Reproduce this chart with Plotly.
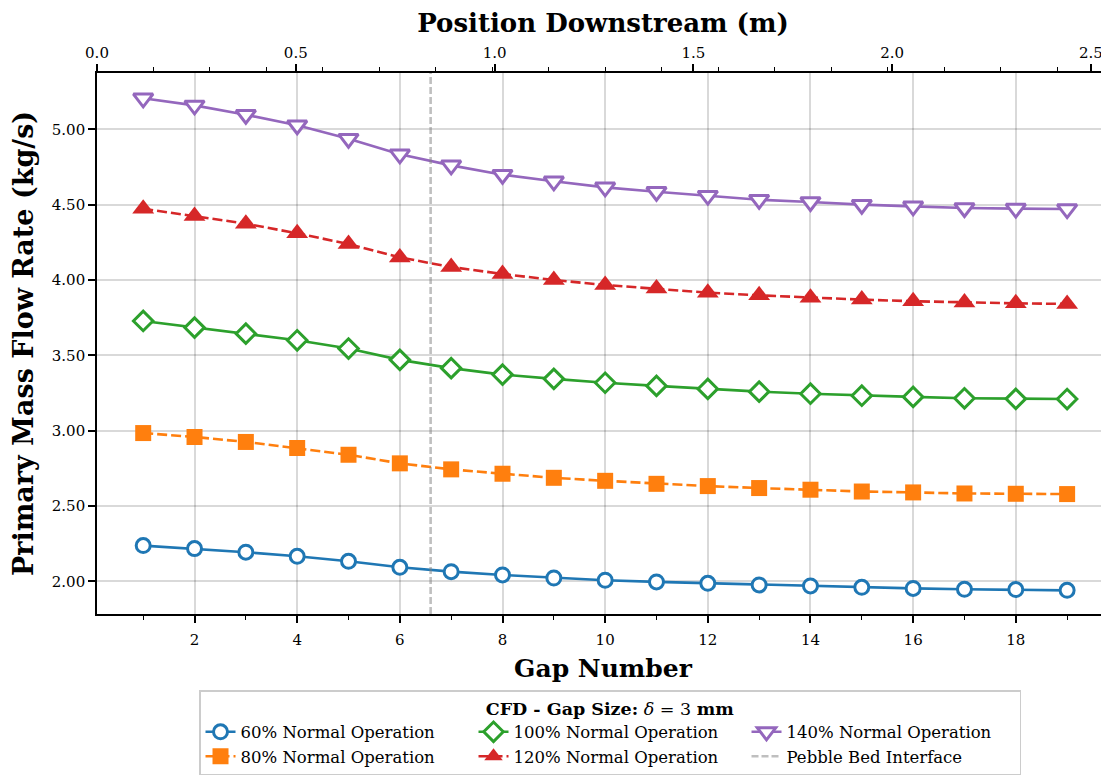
import plotly.graph_objects as go

# ---------------- data ----------------
gap_number = list(range(1, 20))
flow_60 = [2.237, 2.217, 2.193, 2.166, 2.133, 2.093, 2.064, 2.042, 2.022, 2.007,
           1.996, 1.987, 1.976, 1.969, 1.960, 1.953, 1.947, 1.945, 1.940]
flow_80 = [2.984, 2.958, 2.925, 2.885, 2.840, 2.783, 2.743, 2.714, 2.687, 2.667,
           2.647, 2.632, 2.619, 2.608, 2.596, 2.590, 2.583, 2.581, 2.579]
flow_100 = [3.728, 3.684, 3.644, 3.600, 3.545, 3.470, 3.415, 3.372, 3.344, 3.318,
            3.297, 3.277, 3.259, 3.245, 3.232, 3.224, 3.215, 3.211, 3.210]
flow_120 = [4.473, 4.425, 4.374, 4.310, 4.239, 4.150, 4.086, 4.040, 4.000, 3.967,
            3.943, 3.916, 3.898, 3.883, 3.870, 3.859, 3.850, 3.845, 3.841]
flow_140 = [5.206, 5.159, 5.097, 5.027, 4.938, 4.834, 4.761, 4.699, 4.655, 4.615,
            4.586, 4.560, 4.533, 4.518, 4.500, 4.489, 4.478, 4.474, 4.471]
pebble_bed_gap = 6.6

series_names = ["60% Normal Operation", "80% Normal Operation", "100% Normal Operation",
                "120% Normal Operation", "140% Normal Operation"]
series_values = [flow_60, flow_80, flow_100, flow_120, flow_140]

# ---------------- styles ----------------
colors = ["#1f77b4", "#ff7f0e", "#2ca02c", "#d62728", "#9467bd"]
symbols = ["circle", "square", "diamond", "triangle-up", "triangle-down"]
open_face = [True, False, True, False, True]
dashes = ["solid", "10px,4px", "solid", "10px,4px", "solid"]
sizes = [14, 16, 15, 19, 17]
ranks = [1, 4, 2, 5, 3]

X_RANGE = [0.1, 19.816]
Y_RANGE = [1.783, 5.374]
TOP_RANGE = [0.0, 2.5455]

FONT = "DejaVu Serif"

fig = go.Figure()
for name, vals, c, sym, of, d, s, r in zip(series_names, series_values, colors, symbols,
                                           open_face, dashes, sizes, ranks):
    fig.add_trace(go.Scatter(
        x=gap_number, y=vals, name=name, mode="lines+markers",
        line=dict(color=c, width=2.6, dash=d),
        marker=dict(symbol=sym, size=s,
                    color="white" if of else c,
                    line=dict(color=c, width=3 if of else 0)),
        legendrank=r,
    ))

# pebble bed interface (vertical dashed line spanning the axis)
fig.add_trace(go.Scatter(
    x=[pebble_bed_gap, pebble_bed_gap], y=Y_RANGE, mode="lines",
    name="Pebble Bed Interface",
    line=dict(color="rgba(128,128,128,0.5)", width=2.6, dash="7px,3px"),
    legendrank=6,
))

# invisible trace for top axis
fig.add_trace(go.Scatter(x=TOP_RANGE, y=Y_RANGE, xaxis="x2", mode="markers",
                         marker=dict(opacity=0), showlegend=False, hoverinfo="skip"))

grid_c = "rgba(0,0,0,0.15)"
fig.update_layout(
    width=1109, height=776,
    margin=dict(l=89, r=8, t=64.5, b=169.5, autoexpand=False),
    paper_bgcolor="white", plot_bgcolor="white",
    font=dict(family=FONT, size=15, color="black"),
    xaxis=dict(
        range=X_RANGE, tickmode="linear", tick0=0, dtick=2, automargin=False,
        ticks="outside", ticklen=7, tickwidth=1.5, tickcolor="black",
        showline=True, linecolor="black", linewidth=1.6,
        showgrid=True, gridcolor=grid_c, gridwidth=1.5, zeroline=False,
        minor=dict(dtick=1, tick0=0, ticks="outside", ticklen=4, tickwidth=1.2,
                   tickcolor="black", showgrid=False),
        title=dict(text="<b>Gap Number</b>", font=dict(size=25), standoff=12),
        tickfont=dict(size=15), ticklabelstandoff=4,
    ),
    xaxis2=dict(
        range=TOP_RANGE, overlaying="x", side="top", anchor="y", automargin=False,
        tickmode="linear", tick0=0, dtick=0.5, tickformat=".1f",
        ticks="outside", ticklen=7, tickwidth=1.5, tickcolor="black",
        showline=True, linecolor="black", linewidth=1.6,
        showgrid=False, zeroline=False,
        minor=dict(dtick=0.1421, tick0=0, ticks="outside", ticklen=4, tickwidth=1.2,
                   tickcolor="black", showgrid=False),
        title=dict(text="<b>Position Downstream (m)</b>", font=dict(size=26), standoff=8),
        tickfont=dict(size=15),
    ),
    yaxis=dict(
        range=Y_RANGE, tickmode="linear", tick0=0, dtick=0.5, tickformat=".2f",
        automargin=False,
        ticks="outside", ticklen=7, tickwidth=1.5, tickcolor="black",
        showline=True, linecolor="black", linewidth=1.6,
        showgrid=True, gridcolor=grid_c, gridwidth=1.5, zeroline=False,
        title=dict(text="<b>Primary Mass Flow Rate (kg/s)</b>", font=dict(size=27), standoff=12),
        tickfont=dict(size=15),
    ),
    legend=dict(
        orientation="h", x=0.1008, xanchor="left", y=-0.1411, yanchor="top",
        entrywidth=228, entrywidthmode="pixels",
        bgcolor="white", bordercolor="#cccccc", borderwidth=1.5,
        font=dict(family=FONT, size=16.5),
        title=dict(text="<b>CFD - Gap Size:</b> <i>δ</i> = 3 <b>mm</b>",
                   side="top center", font=dict(size=17.5)),
        traceorder="normal",
    ),
    showlegend=True,
)

fig.write_html("out.html")
